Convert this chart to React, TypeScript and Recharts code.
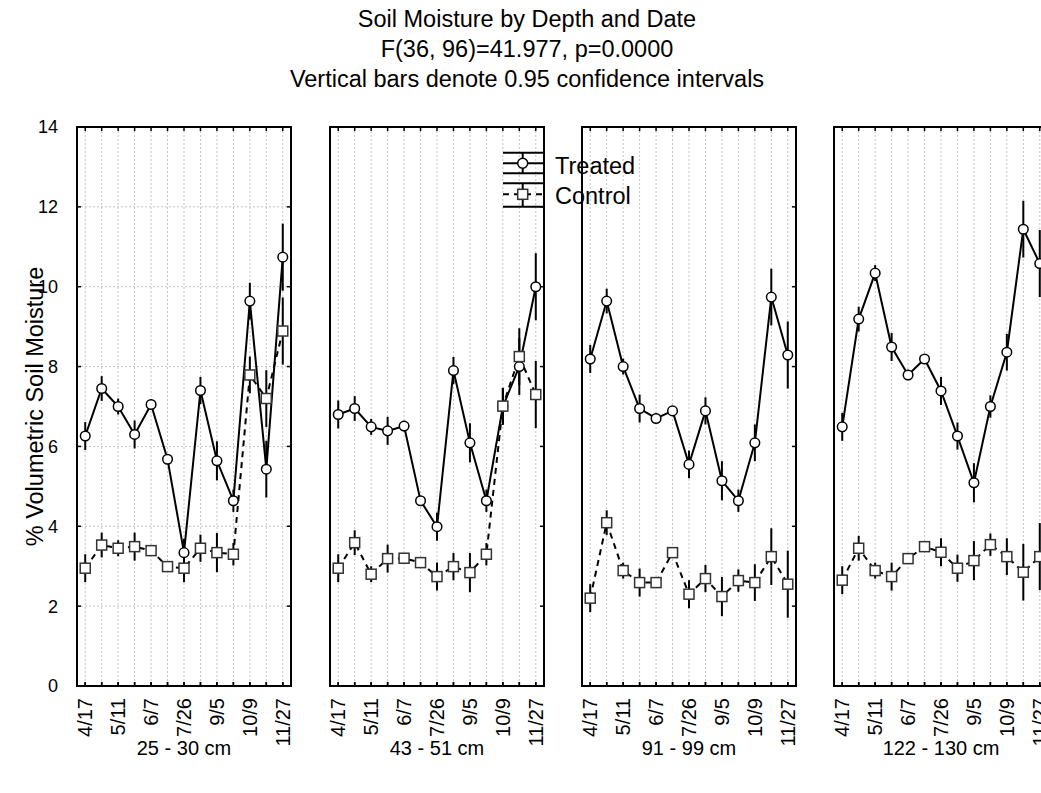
import React from "react";
import { LineChart, Line, XAxis, YAxis, CartesianGrid, ErrorBar, ReferenceArea, ReferenceLine } from "recharts";

// sampling dates (only every other one is labelled on the axis)
const dates = ["4/17", "", "5/11", "", "6/7", "", "7/26", "", "9/5", "", "10/9", "", "11/27"];
const depths = ["25 - 30 cm", "43 - 51 cm", "91 - 99 cm", "122 - 130 cm"];

const treated25 = [6.26, 7.45, 7.0, 6.3, 7.05, 5.68, 3.34, 7.4, 5.64, 4.64, 9.64, 5.43, 10.74];
const control25 = [2.95, 3.53, 3.45, 3.49, 3.39, 2.99, 2.95, 3.45, 3.34, 3.3, 7.79, 7.2, 8.89];
const treated43 = [6.8, 6.95, 6.49, 6.39, 6.51, 4.64, 3.99, 7.9, 6.09, 4.64, 7.0, 8.0, 10.0];
const control43 = [2.95, 3.59, 2.8, 3.19, 3.2, 3.09, 2.74, 2.99, 2.84, 3.3, 7.01, 8.25, 7.3];
const treated91 = [8.19, 9.64, 8.0, 6.95, 6.7, 6.89, 5.55, 6.89, 5.14, 4.64, 6.09, 9.74, 8.29];
const control91 = [2.2, 4.09, 2.89, 2.59, 2.59, 3.34, 2.3, 2.69, 2.24, 2.64, 2.59, 3.24, 2.55];
const treated122 = [6.49, 9.19, 10.34, 8.49, 7.79, 8.19, 7.39, 6.26, 5.09, 7.0, 8.36, 11.44, 10.58];
const control122 = [2.65, 3.45, 2.89, 2.74, 3.19, 3.49, 3.35, 2.95, 3.14, 3.54, 3.24, 2.85, 3.24];

// half width of the 0.95 confidence interval per date
const ci95 = [0.35, 0.31, 0.2, 0.35, 0.13, 0.1, 0.35, 0.34, 0.49, 0.28, 0.46, 0.71, 0.84];

const yTicks = [0, 2, 4, 6, 8, 10, 12, 14];
const xTicks = dates.map((_, i) => i);
const X_MIN = -0.5;
const X_MAX = 12.5;
const Y_MAX = 14;

const FONT = '"Liberation Sans", Arial, sans-serif';
const PLOT_TOP = 127;
const PLOT_BOTTOM = 686;
const PLOT_W = 214;
const PAD = 20;
const panelLeft = [77, 330, 582, 834];
// inward tick length expressed in axis units (about 4px)
const TICK_X = 0.25;
const TICK_Y = 0.1;

const seriesByPanel = [
  { treated: treated25, control: control25 },
  { treated: treated43, control: control43 },
  { treated: treated91, control: control91 },
  { treated: treated122, control: control122 },
];

function CircleDot(props: any) {
  const { cx, cy } = props;
  if (cx == null || cy == null) return null;
  return <circle cx={cx} cy={cy} r={4.8} fill="#fff" stroke="#000" strokeWidth={1.5} />;
}

function SquareDot(props: any) {
  const { cx, cy } = props;
  if (cx == null || cy == null) return null;
  return <rect x={cx - 5} y={cy - 5} width={10} height={10} fill="#fff" stroke="#333" strokeWidth={1.5} />;
}

function DateTick(props: any) {
  const { x, y, payload } = props;
  const label = dates[payload.value] || "";
  if (!label) return <g />;
  return (
    <text x={x} y={y} transform={`rotate(-90, ${x}, ${y})`} textAnchor="end" dominantBaseline="central" fontSize={20} fill="#000">
      {label}
    </text>
  );
}

const frame = { stroke: "#000", strokeWidth: 2 };
const tickMark = { stroke: "#000", strokeWidth: 1.5 };

function Panel({ index }: { index: number }) {
  const first = index === 0;
  const yAxisW = first ? panelLeft[0] : 0;
  const padLeft = first ? 0 : PAD;
  const left = first ? 0 : panelLeft[index] - PAD;
  const { treated, control } = seriesByPanel[index];
  const data = dates.map((_, i) => ({ i, treated: treated[i], control: control[i], err: ci95[i] }));

  return (
    <div style={{ position: "absolute", left, top: 0 }}>
      <LineChart
        width={padLeft + yAxisW + PLOT_W + 12}
        height={793}
        data={data}
        margin={{ top: PLOT_TOP, right: 12, bottom: 0, left: padLeft }}
      >
        <CartesianGrid stroke="#c4c4c4" strokeDasharray="2 2" />
        <XAxis
          dataKey="i"
          type="number"
          domain={[X_MIN, X_MAX]}
          ticks={xTicks}
          interval={0}
          height={793 - PLOT_BOTTOM}
          tickSize={-4}
          tickMargin={16}
          tick={<DateTick />}
          axisLine={frame}
          tickLine={tickMark}
          label={{ value: depths[index], position: "insideBottom", offset: 38, fontSize: 20, fill: "#000" }}
        />
        <YAxis
          type="number"
          domain={[0, Y_MAX]}
          ticks={yTicks}
          interval={0}
          width={yAxisW}
          tickSize={-4}
          tickMargin={23}
          tick={first ? { fontSize: 18, fill: "#000" } : false}
          axisLine={frame}
          tickLine={tickMark}
          label={
            first
              ? {
                  value: "% Volumetric Soil Moisture",
                  angle: -90,
                  position: "insideLeft",
                  offset: 35,
                  fontSize: 23.5,
                  fill: "#000",
                  style: { textAnchor: "middle" },
                }
              : undefined
          }
        />
        {/* panel frame */}
        <ReferenceArea x1={X_MIN} x2={X_MAX} y1={0} y2={Y_MAX} fill="none" fillOpacity={0} stroke="#000" strokeWidth={2} ifOverflow="visible" />
        {/* inward ticks on the top, bottom and right edges */}
        {xTicks.map((t) => (
          <ReferenceLine key={`top-${t}`} segment={[{ x: t, y: Y_MAX }, { x: t, y: Y_MAX - TICK_Y }]} stroke="#000" strokeWidth={1.5} />
        ))}
        {xTicks.map((t) => (
          <ReferenceLine key={`bot-${t}`} segment={[{ x: t, y: 0 }, { x: t, y: TICK_Y }]} stroke="#000" strokeWidth={1.5} />
        ))}
        {yTicks.map((v) => (
          <ReferenceLine key={`right-${v}`} segment={[{ x: X_MAX, y: v }, { x: X_MAX - TICK_X, y: v }]} stroke="#000" strokeWidth={1.5} />
        ))}
        <Line dataKey="treated" stroke="#000" strokeWidth={2} dot={<CircleDot />} activeDot={false} isAnimationActive={false}>
          <ErrorBar dataKey="err" width={0} stroke="#000" strokeWidth={2} direction="y" />
        </Line>
        <Line dataKey="control" stroke="#000" strokeWidth={2} strokeDasharray="6 5" dot={<SquareDot />} activeDot={false} isAnimationActive={false}>
          <ErrorBar dataKey="err" width={0} stroke="#000" strokeWidth={2} direction="y" />
        </Line>
      </LineChart>
    </div>
  );
}

function Overlay() {
  const lx1 = 503;
  const lx2 = 543;
  const lc = 522.7;
  return (
    <svg width={1041} height={793} style={{ position: "absolute", left: 0, top: 0, pointerEvents: "none" }}>
      <g fill="#000" fontSize={23.5} textAnchor="middle">
        <text x={527} y={27}>Soil Moisture by Depth and Date</text>
        <text x={527} y={57}>F(36, 96)=41.977, p=0.0000</text>
        <text x={527} y={87}>Vertical bars denote 0.95 confidence intervals</text>
      </g>
      <g stroke="#000" strokeWidth={2}>
        <line x1={lx1} x2={lx2} y1={152.7} y2={152.7} />
        <line x1={lx1} x2={lx2} y1={163.3} y2={163.3} />
        <line x1={lx1} x2={lx2} y1={173.3} y2={173.3} />
        <line x1={lc} x2={lc} y1={152.7} y2={173.3} />
        <line x1={lx1} x2={lx2} y1={183.3} y2={183.3} />
        <line x1={lx1} x2={lx2} y1={194.3} y2={194.3} strokeDasharray="6 5" />
        <line x1={lx1} x2={lx2} y1={206.7} y2={206.7} />
        <line x1={lc} x2={lc} y1={183.3} y2={206.7} />
      </g>
      <circle cx={lc} cy={163.3} r={5} fill="#fff" stroke="#000" strokeWidth={1.5} />
      <rect x={lc - 5} y={194.3 - 5} width={10} height={10} fill="#fff" stroke="#333" strokeWidth={1.5} />
      <g fill="#000" fontSize={23.5}>
        <text x={555} y={174}>Treated</text>
        <text x={555} y={204}>Control</text>
      </g>
    </svg>
  );
}

export default function App() {
  return (
    <div
      style={{
        position: "absolute",
        left: 0,
        top: 0,
        width: 1041,
        height: 793,
        overflow: "hidden",
        background: "#fff",
        fontFamily: FONT,
      }}
    >
      {depths.map((_, i) => (
        <Panel key={i} index={i} />
      ))}
      <Overlay />
    </div>
  );
}
